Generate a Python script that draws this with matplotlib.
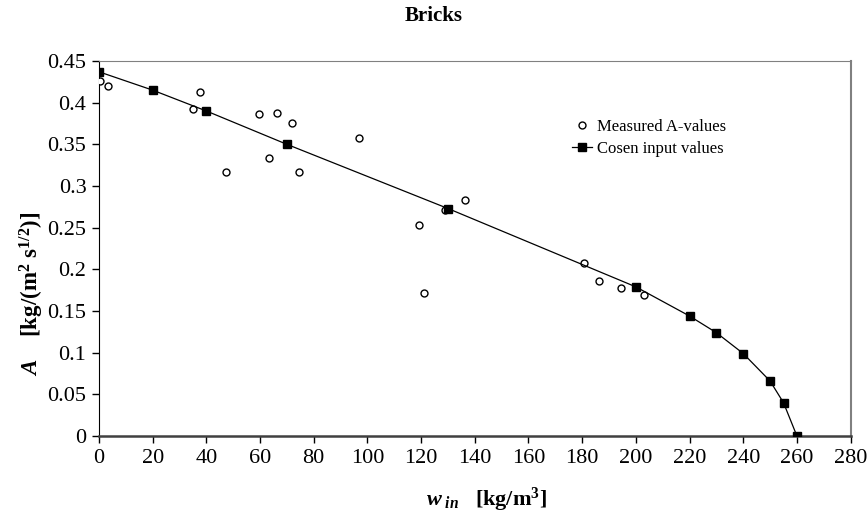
import matplotlib
matplotlib.use('Agg')
import matplotlib.pyplot as plt
from matplotlib.ticker import FormatStrFormatter

# Measured A-values (open circles)
measured_w = [0.4, 3.5, 35.1, 37.6, 47.5, 59.6, 63.4, 66.4, 72.0, 74.5, 96.8,
              119.1, 121.1, 128.8, 136.3, 180.8, 186.4, 194.5, 203.2]
measured_A = [0.426, 0.420, 0.392, 0.413, 0.317, 0.386, 0.334, 0.388, 0.375, 0.317, 0.357,
              0.253, 0.172, 0.271, 0.283, 0.208, 0.186, 0.178, 0.169]

# Chosen input values (filled squares + line)
input_w = [0, 20, 40, 70, 130, 200, 220, 230, 240, 250, 255, 260]
input_A = [0.437, 0.415, 0.390, 0.350, 0.273, 0.179, 0.144, 0.124, 0.099, 0.066, 0.040, 0.0]

plt.rcParams['font.family'] = ['Liberation Serif', 'DejaVu Serif']
plt.rcParams['mathtext.fontset'] = 'custom'
plt.rcParams['mathtext.rm'] = 'Liberation Serif:bold'
plt.rcParams['mathtext.it'] = 'Liberation Serif:bold:italic'
plt.rcParams['mathtext.bf'] = 'Liberation Serif:bold'

fig = plt.figure(figsize=(8.68, 5.21), dpi=100)
ax = fig.add_axes([0.114, 0.163, 0.866, 0.72])

ax.plot(measured_w, measured_A, linestyle='none', marker='o', markersize=5,
        markerfacecolor='white', markeredgecolor='black', markeredgewidth=1.0,
        label='Measured A-values', zorder=3)
ax.plot(input_w, input_A, color='black', linewidth=0.9, marker='s', markersize=5.5,
        markerfacecolor='black', markeredgecolor='black',
        label='Cosen input values', zorder=4)

ax.set_xlim(0, 280)
ax.set_ylim(0, 0.45)
ax.set_xticks(range(0, 281, 20))
ax.set_yticks([i * 0.05 for i in range(10)])
ax.yaxis.set_major_formatter(FormatStrFormatter('%g'))
ax.tick_params(axis='both', direction='out', length=5, width=1, labelsize=16, pad=4)

ax.spines['left'].set_color('black')
ax.spines['bottom'].set_color('#404040')
ax.spines['bottom'].set_linewidth(1.8)
ax.spines['top'].set_color('#808080')
ax.spines['right'].set_color('#808080')
ax.spines['right'].set_linewidth(1.5)

ax.set_xlabel(r'$w_{\ in}$   [kg/m$^3$]', fontsize=16, fontweight='bold')
ax.set_ylabel(r'$A$    [kg/(m$^2$ s$^{1/2}$)]', fontsize=16.5, fontweight='bold')
ax.xaxis.set_label_coords(0.516, -0.133)
ax.yaxis.set_label_coords(-0.071, 0.38)

fig.text(0.5, 0.97, 'Bricks', ha='center', va='center', fontsize=15, fontweight='bold')

ax.legend(loc='center left', bbox_to_anchor=(0.62, 0.795), frameon=False, fontsize=12,
          handlelength=1.2, handletextpad=0.3, labelspacing=0.4, borderaxespad=0)

fig.savefig('out.png', dpi=100)
